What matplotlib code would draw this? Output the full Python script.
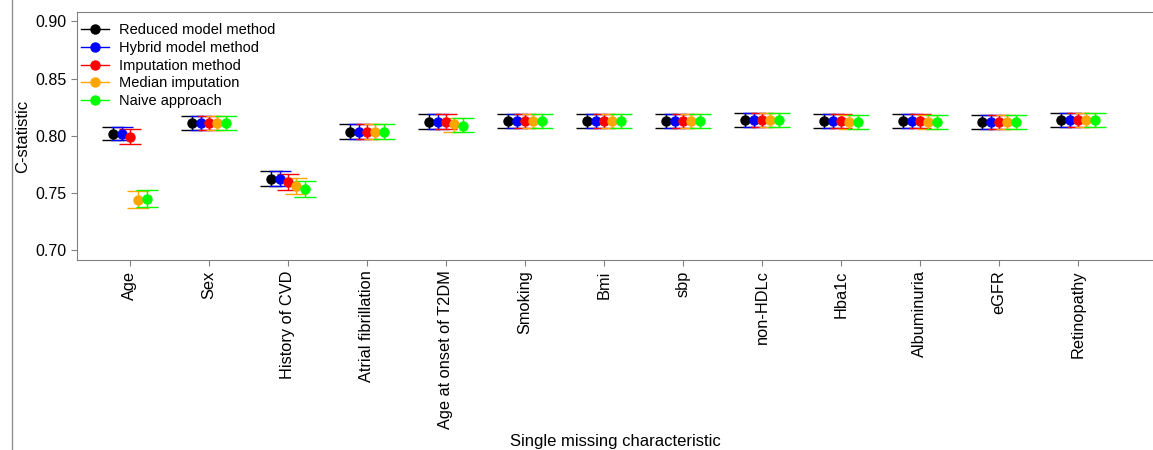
import matplotlib.pyplot as plt
import numpy as np
from matplotlib.lines import Line2D

plt.rcParams['font.family'] = ['Liberation Sans', 'DejaVu Sans']

characteristics = ["Age", "Sex", "History of CVD", "Atrial fibrillation",
                   "Age at onset of T2DM", "Smoking", "Bmi", "sbp", "non-HDLc",
                   "Hba1c", "Albuminuria", "eGFR", "Retinopathy"]

methods = ["Reduced model method", "Hybrid model method", "Imputation method",
           "Median imputation", "Naive approach"]
colors = ["black", "blue", "red", "orange", "lime"]

# point estimates per method (one value per characteristic)
reduced = [0.802, 0.811, 0.762, 0.803, 0.812, 0.813, 0.813, 0.813, 0.814, 0.813, 0.813, 0.812, 0.814]
hybrid = [0.802, 0.811, 0.762, 0.803, 0.812, 0.813, 0.813, 0.813, 0.814, 0.813, 0.813, 0.812, 0.814]
imputation = [0.799, 0.811, 0.760, 0.803, 0.812, 0.813, 0.813, 0.813, 0.814, 0.813, 0.813, 0.812, 0.814]
median_imp = [0.744, 0.811, 0.756, 0.803, 0.810, 0.813, 0.813, 0.813, 0.814, 0.812, 0.812, 0.812, 0.814]
naive = [0.745, 0.811, 0.754, 0.803, 0.809, 0.813, 0.813, 0.813, 0.814, 0.812, 0.812, 0.812, 0.814]

# lower / upper 95% limits
reduced_lo = [0.796, 0.805, 0.756, 0.797, 0.806, 0.807, 0.807, 0.807, 0.808, 0.807, 0.807, 0.806, 0.808]
reduced_hi = [0.808, 0.817, 0.769, 0.810, 0.819, 0.819, 0.819, 0.819, 0.820, 0.819, 0.819, 0.818, 0.820]
hybrid_lo = [0.796, 0.805, 0.756, 0.797, 0.806, 0.807, 0.807, 0.807, 0.808, 0.807, 0.807, 0.806, 0.808]
hybrid_hi = [0.808, 0.817, 0.769, 0.810, 0.819, 0.819, 0.819, 0.819, 0.820, 0.819, 0.819, 0.818, 0.820]
imputation_lo = [0.793, 0.805, 0.753, 0.797, 0.806, 0.807, 0.807, 0.807, 0.808, 0.807, 0.807, 0.806, 0.808]
imputation_hi = [0.806, 0.817, 0.767, 0.810, 0.819, 0.819, 0.819, 0.819, 0.820, 0.819, 0.819, 0.818, 0.820]
median_lo = [0.737, 0.805, 0.749, 0.797, 0.803, 0.807, 0.807, 0.807, 0.808, 0.806, 0.806, 0.806, 0.808]
median_hi = [0.752, 0.817, 0.763, 0.810, 0.8155, 0.819, 0.819, 0.819, 0.820, 0.818, 0.818, 0.818, 0.820]
naive_lo = [0.738, 0.805, 0.747, 0.797, 0.803, 0.807, 0.807, 0.807, 0.808, 0.806, 0.806, 0.806, 0.808]
naive_hi = [0.753, 0.817, 0.761, 0.810, 0.8155, 0.819, 0.819, 0.819, 0.820, 0.818, 0.818, 0.818, 0.820]

estimates = [reduced, hybrid, imputation, median_imp, naive]
lowers = [reduced_lo, hybrid_lo, imputation_lo, median_lo, naive_lo]
uppers = [reduced_hi, hybrid_hi, imputation_hi, median_hi, naive_hi]

fig = plt.figure(figsize=(11.53, 4.5), dpi=100)
ax = fig.add_axes([0.0668, 0.422, 0.9332, 0.551])

x = np.arange(len(characteristics))
offsets = [-0.21, -0.105, 0.0, 0.105, 0.21]

for est, lo, hi, col, off, name in zip(estimates, lowers, uppers, colors, offsets, methods):
    est = np.array(est)
    yerr = [est - np.array(lo), np.array(hi) - est]
    ax.errorbar(x + off, est, yerr=yerr, fmt='o', color=col, ecolor=col,
                markersize=6.5, capsize=8, elinewidth=1, capthick=1,
                label=name)

ax.set_xlim(-0.67, 12.95)
ax.set_ylim(0.6915, 0.908)
ax.set_yticks([0.70, 0.75, 0.80, 0.85, 0.90])
ax.set_yticklabels(["0.70", "0.75", "0.80", "0.85", "0.90"], fontsize=11.5)
ax.set_xticks(x)
ax.set_xticklabels(characteristics, rotation=90, fontsize=11.8)
ax.set_ylabel("C-statistic", fontsize=12)
ax.set_xlabel("Single missing characteristic", fontsize=12)
ax.xaxis.set_label_coords(0.5, -0.70)
ax.yaxis.set_label_coords(-0.044, 0.5)

for s in ax.spines.values():
    s.set_color('#808080')
ax.spines['right'].set_visible(False)
ax.tick_params(colors='#808080', labelcolor='black', length=4)

handles = [Line2D([0], [0], color=c, marker='o', markersize=6.5, lw=1) for c in colors]
ax.legend(handles, methods, loc='upper left', frameon=False, fontsize=10.5,
          handlelength=1.9, handletextpad=0.7, labelspacing=0.25,
          borderpad=0.2, borderaxespad=0.1, bbox_to_anchor=(0.0, 0.972))

# thin frame line on the left edge of the image
fig.add_artist(Line2D([0.0105, 0.0105], [0.0, 1.0], color='#909090', lw=1))

fig.savefig("out.png", dpi=100)
